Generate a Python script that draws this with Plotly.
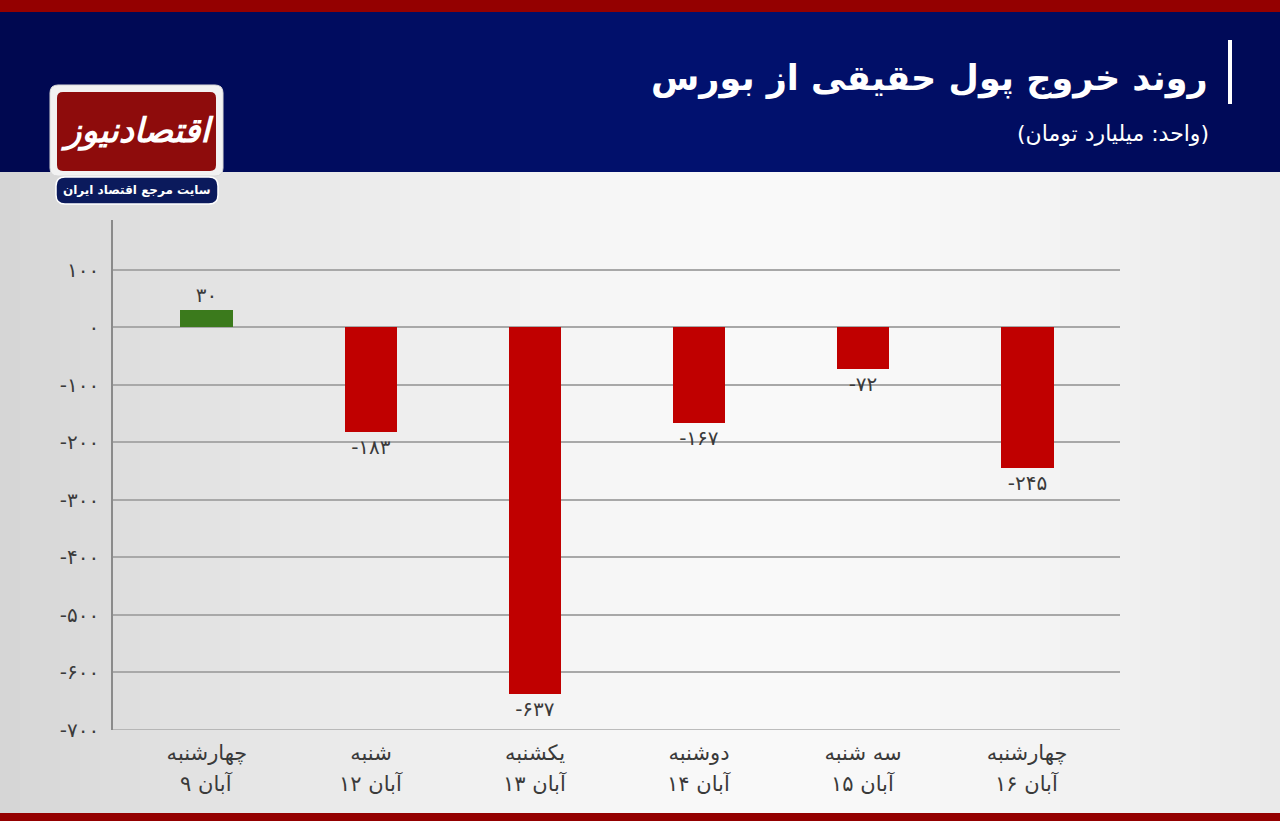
import plotly.graph_objects as go

# ---- data ----
days = ["چهارشنبه", "شنبه", "یکشنبه", "دوشنبه", "سه شنبه", "چهارشنبه"]
dates = ["۹ آبان", "۱۲ آبان", "۱۳ آبان", "۱۴ آبان", "۱۵ آبان", "۱۶ آبان"]
values = [30, -183, -637, -167, -72, -245]
value_labels = ["۳۰", "-۱۸۳", "-۶۳۷", "-۱۶۷", "-۷۲", "-۲۴۵"]
y_ticks = [100, 0, -100, -200, -300, -400, -500, -600, -700]
y_tick_labels = ["۱۰۰", "۰", "-۱۰۰", "-۲۰۰", "-۳۰۰", "-۴۰۰", "-۵۰۰", "-۶۰۰", "-۷۰۰"]
title_text = "روند خروج پول حقیقی از بورس"
subtitle_text = "(واحد: میلیارد تومان)"
logo_text = "اقتصادنیوز"
logo_sub = "سایت مرجع اقتصاد ایران"

W, H = 1280, 821
L, R, T, B = 113, 160, 220, 91
PW, PH = W - L - R, H - T - B

def px(x):
    return (x - L) / PW

def py(y):
    return (H - B - y) / PH

def rounded(x0, y0, x1, y1, r):
    pts = [
        ("M", x0 + r, y0), ("L", x1 - r, y0), ("Q", x1, y0, x1, y0 + r),
        ("L", x1, y1 - r), ("Q", x1, y1, x1 - r, y1), ("L", x0 + r, y1),
        ("Q", x0, y1, x0, y1 - r), ("L", x0, y0 + r), ("Q", x0, y0, x0 + r, y0),
    ]
    s = ""
    for p in pts:
        cmd, coords = p[0], p[1:]
        vals = []
        for j in range(0, len(coords), 2):
            vals.append(f"{px(coords[j]):.5f},{py(coords[j + 1]):.5f}")
        s += cmd + " " + " ".join(vals) + " "
    return s + "Z"

FONT = "DejaVu Sans"
TXT = "#3a3a3a"
categories = [f"c{i}" for i in range(len(days))]
colors = ["#3b7a1c" if v >= 0 else "#c00000" for v in values]

fig = go.Figure()
fig.add_trace(go.Bar(
    x=categories, y=values, width=0.323,
    marker=dict(color=colors, line=dict(width=0)),
    text=value_labels, textposition="outside", constraintext="none",
    cliponaxis=False,
    textfont=dict(family=FONT, size=20, color=TXT),
    hoverinfo="skip",
))

shapes = []
n = 64
for i in range(n):
    t = (i + 0.5) / n
    c0 = 0.6
    if t < c0:
        g = 250 - 36 * ((c0 - t) / c0) ** 1.5
    else:
        g = 250 - 16 * ((t - c0) / (1 - c0)) ** 1.5
    g = int(g)
    shapes.append(dict(type="rect", xref="paper", yref="paper", layer="below",
                       x0=px(i * W / n), x1=px((i + 1) * W / n + 1),
                       y0=py(813), y1=py(172), fillcolor=f"rgb({g},{g},{g})",
                       line=dict(width=0)))
    k = 1 - min(1.0, abs(t - 0.55) / 0.55)
    r_, g_, b_ = int(0 + 2 * k), int(8 + 10 * k), int(80 + 32 * k)
    shapes.append(dict(type="rect", xref="paper", yref="paper", layer="below",
                       x0=px(i * W / n), x1=px((i + 1) * W / n + 1),
                       y0=py(172), y1=py(12), fillcolor=f"rgb({r_},{g_},{b_})",
                       line=dict(width=0)))
# red bands
shapes.append(dict(type="rect", xref="paper", yref="paper", layer="below",
                   x0=px(0), x1=px(W), y0=py(12), y1=py(0),
                   fillcolor="#940000", line=dict(width=0)))
shapes.append(dict(type="rect", xref="paper", yref="paper", layer="below",
                   x0=px(0), x1=px(W), y0=py(821), y1=py(813),
                   fillcolor="#940000", line=dict(width=0)))
# bottom gridline at -700
shapes.append(dict(type="line", xref="paper", yref="y", layer="below",
                   x0=0, x1=1, y0=y_ticks[-1], y1=y_ticks[-1],
                   line=dict(color="#a8a8a8", width=1.5)))
# title bar
shapes.append(dict(type="line", xref="paper", yref="paper",
                   x0=px(1230), x1=px(1230), y0=py(40), y1=py(104),
                   line=dict(color="white", width=4)))
# logo
shapes.append(dict(type="path", xref="paper", yref="paper", layer="above",
                   path=rounded(50, 85, 223, 176, 8),
                   fillcolor="#f2f2f2", line=dict(color="#d8d8d8", width=1)))
shapes.append(dict(type="path", xref="paper", yref="paper", layer="above",
                   path=rounded(57, 92, 216, 171, 6),
                   fillcolor="#8e0c0c", line=dict(width=0)))
shapes.append(dict(type="path", xref="paper", yref="paper", layer="above",
                   path=rounded(56, 177, 218, 204, 9),
                   fillcolor="#0b1a5c", line=dict(color="white", width=1.5)))

annotations = [
    dict(text=f"<b>{title_text}</b>", xref="paper", yref="paper",
         x=px(1210), y=py(78), xanchor="right", yanchor="middle", showarrow=False,
         font=dict(family=FONT, size=35, color="white")),
    dict(text=subtitle_text, xref="paper", yref="paper",
         x=px(1211), y=py(134), xanchor="right", yanchor="middle", showarrow=False,
         font=dict(family=FONT, size=22, color="white")),
    dict(text=f"<b><i>{logo_text}</i></b>", xref="paper", yref="paper",
         x=px(137), y=py(131), xanchor="center", yanchor="middle", showarrow=False,
         font=dict(family=FONT, size=34, color="white")),
    dict(text=f"<b>{logo_sub}</b>", xref="paper", yref="paper",
         x=px(137), y=py(190), xanchor="center", yanchor="middle", showarrow=False,
         font=dict(family=FONT, size=12, color="white")),
]
for c, d in zip(categories, dates):
    annotations.append(dict(text=d, xref="x", yref="paper", x=c, y=py(783),
                            xanchor="center", yanchor="middle", showarrow=False,
                            font=dict(family=FONT, size=21, color=TXT)))

fig.update_layout(
    width=W, height=H,
    margin=dict(l=L, r=R, t=T, b=B, pad=0),
    paper_bgcolor="#eeeeee", plot_bgcolor="rgba(0,0,0,0)",
    showlegend=False, bargap=0,
    shapes=shapes, annotations=annotations,
    font=dict(family=FONT, color=TXT),
)
fig.update_xaxes(
    type="category", categoryorder="array", categoryarray=categories,
    tickvals=categories, ticktext=days, range=[-0.573, 5.567],
    showgrid=False, showline=False, zeroline=False, ticks="",
    ticklabelstandoff=8,
    tickfont=dict(family=FONT, size=21, color=TXT),
)
fig.update_yaxes(
    range=[-700, 186], tickvals=y_ticks, ticktext=y_tick_labels,
    showgrid=True, gridcolor="#a8a8a8", gridwidth=1.5,
    showline=True, linecolor="#8a8a8a", linewidth=1.5,
    zeroline=False, ticks="", ticklabelstandoff=8,
    tickfont=dict(family=FONT, size=20, color=TXT),
)

fig.write_html("out.html")
